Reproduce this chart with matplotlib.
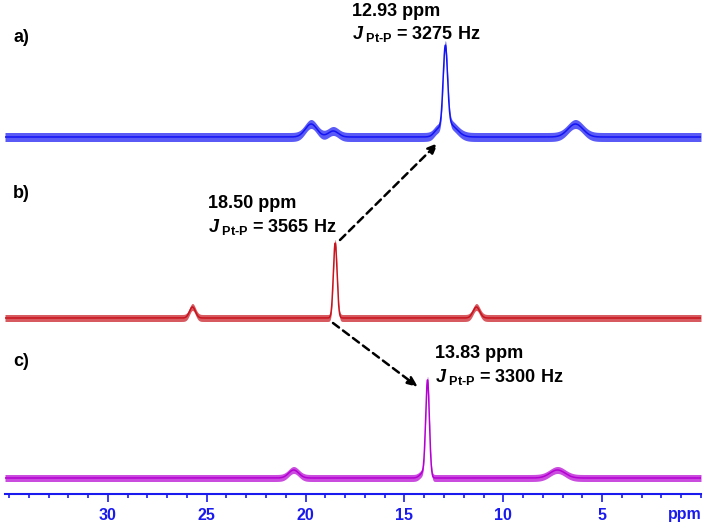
import numpy as np
import matplotlib.pyplot as plt
from matplotlib.ticker import MultipleLocator

plt.rcParams['font.family'] = ['Liberation Sans', 'DejaVu Sans']
plt.rcParams['font.weight'] = 'bold'
plt.rcParams['mathtext.fontset'] = 'custom'
plt.rcParams['mathtext.rm'] = 'Liberation Sans:bold'
plt.rcParams['mathtext.bf'] = 'Liberation Sans:bold'
plt.rcParams['mathtext.it'] = 'Liberation Sans:bold:italic'

# 31P spectra: offsets and heights in axis units (px)
traceLabels = ['a)', 'b)', 'c)']
baselines = [357, 176, 16]
noiseLevels = [4.5, 3.5, 3.5]
# (shift ppm, height, fwhm ppm)
peaksA = [(12.93, 80, 0.26), (12.75, 13, 0.9), (13.35, 4, 0.4),
          (19.72, 13, 0.7), (18.6, 6, 0.6), (6.35, 13, 0.9)]
peaksB = [(18.50, 75, 0.22), (25.72, 11, 0.35), (11.36, 11, 0.4)]
peaksC = [(13.83, 96, 0.22), (14.05, 5, 0.4), (20.6, 8, 0.6), (7.26, 8, 0.9)]
peakLists = [peaksA, peaksB, peaksC]

shifts = ['12.93', '18.50', '13.83']
couplings = [3275, 3565, 3300]

traceColors = ['#1414f5', '#c8141e', '#b400d2']
axisColor = '#1a1aee'


def spectrum(ppm, peaks, base):
  y = np.full_like(ppm, float(base))
  for pos, h, w in peaks:
    s = w / 2.3548
    y += h * np.exp(-0.5 * ((ppm - pos) / s) ** 2)
  return y


def fx(px):
  return px / 708.0


def fy(py):
  return 1 - py / 525.0


fig = plt.figure(figsize=(7.08, 5.25), dpi=100)
ax = fig.add_axes([fx(5), 31 / 525.0, fx(696), 494 / 525.0])

ppm = np.linspace(35.2, 0, 4000)
for peaks, base, noise, col in zip(peakLists, baselines, noiseLevels, traceColors):
  y = spectrum(ppm, peaks, base)
  ax.fill_between(ppm, y - noise, y + noise, color=col, alpha=0.7, lw=0)
  ax.plot(ppm, y, color=col, lw=1.1)

ax.set_xlim(35.2, 0)
ax.set_ylim(0, 494)
ax.xaxis.set_minor_locator(MultipleLocator(1))
ax.set_xticks([30, 25, 20, 15, 10, 5])
ax.set_xticklabels(['30', '25', '20', '15', '10', '5'])
ax.tick_params(axis='x', which='major', length=6, width=1.2, colors=axisColor,
               labelsize=11.5, pad=4)
ax.tick_params(axis='x', which='minor', length=3, width=1.2, colors=axisColor)
ax.set_yticks([])
for side in ['left', 'top', 'right']:
  ax.spines[side].set_visible(False)
ax.spines['bottom'].set_color(axisColor)
ax.spines['bottom'].set_linewidth(1.5)
ax.patch.set_visible(False)

fig.text(fx(685), fy(514), 'ppm', color=axisColor, fontsize=11.5,
         ha='center', va='center', fontweight='bold')

# panel letters
for lab, py in zip(traceLabels, [38, 193, 362]):
  fig.text(fx(13), fy(py), lab, fontsize=13, ha='left', va='center')

# peak annotations
textPos = [(352, 12, 34), (208, 203, 227), (435, 353, 377)]
for s, j, (px, py1, py2) in zip(shifts, couplings, textPos):
  fig.text(fx(px), fy(py1), s + ' ppm', fontsize=13, ha='left', va='center')
  fig.text(fx(px), fy(py2), r'$\mathit{J}_{\ \mathrm{Pt\text{-}P}}$ = %d Hz' % j,
           fontsize=13, ha='left', va='center')

# dashed arrows between the main peaks
arrows = [((340, 240), (438, 143)), ((333, 323), (418, 387))]
for tail, head in arrows:
  ax.annotate('', xy=(fx(head[0]), fy(head[1])), xytext=(fx(tail[0]), fy(tail[1])),
              xycoords='figure fraction', textcoords='figure fraction',
              arrowprops=dict(arrowstyle='-|>,head_length=0.6,head_width=0.25',
                              linestyle=(0, (3, 2)), lw=1.8, color='black',
                              shrinkA=0, shrinkB=0))

plt.savefig('out.png', dpi=100)
